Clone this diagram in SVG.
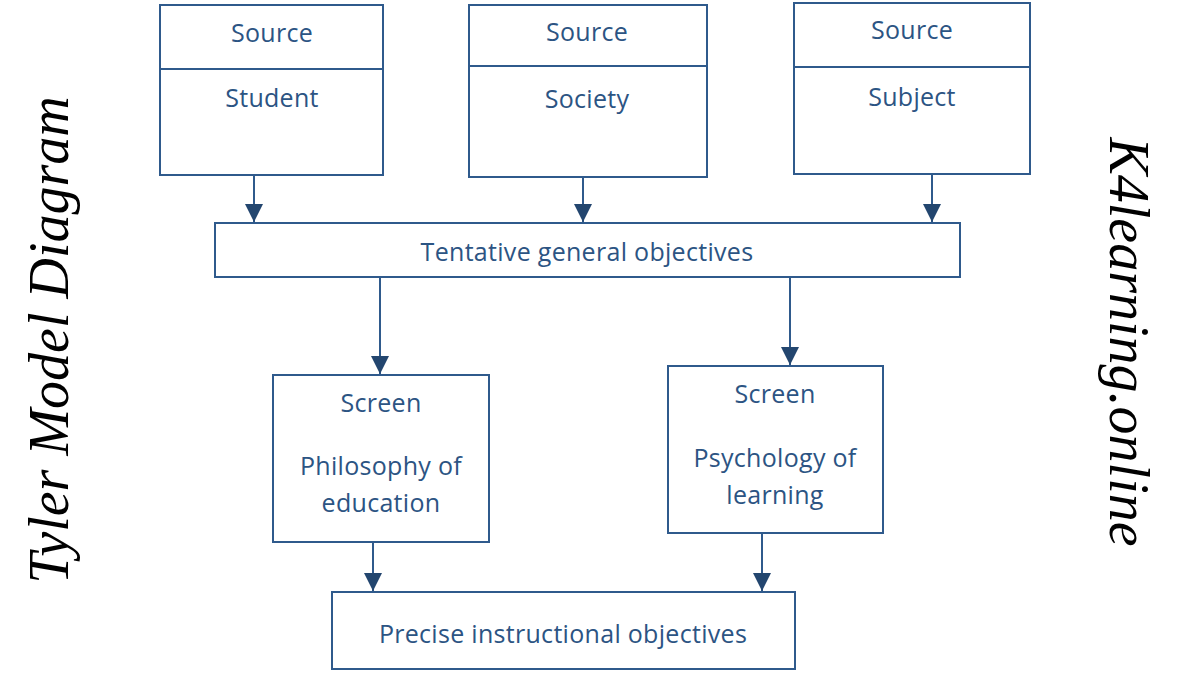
<svg xmlns="http://www.w3.org/2000/svg" width="1200" height="675" viewBox="0 0 1200 675">
<defs>
<marker id="ah" markerUnits="userSpaceOnUse" markerWidth="20" markerHeight="20" viewBox="0 0 20 20" refX="19" refY="10" orient="auto">
<path d="M1,1 L19,10 L1,19 Z" fill="#23466f"/>
</marker>
</defs>
<style>
.box{fill:#fff;stroke:#2f5a8c;stroke-width:2}
.t{font-family:"Open Sans","DejaVu Sans",sans-serif;font-size:25px;letter-spacing:0.3px;fill:#2c5483;text-anchor:middle}
.c{stroke:#2f5a8c;stroke-width:2;fill:none;marker-end:url(#ah)}
.side{font-family:"Liberation Serif",serif;font-style:italic;fill:#000;text-anchor:middle}
</style>
<rect width="1200" height="675" fill="#fff"/>
<g id="connectors">
<line class="c" x1="254" y1="175" x2="254" y2="222"/>
<line class="c" x1="583" y1="177" x2="583" y2="222"/>
<line class="c" x1="932" y1="174" x2="932" y2="222"/>
<line class="c" x1="380" y1="277" x2="380" y2="374"/>
<line class="c" x1="790" y1="277" x2="790" y2="365"/>
<line class="c" x1="373" y1="542" x2="373" y2="591"/>
<line class="c" x1="762" y1="533" x2="762" y2="591"/>
</g>
<g id="student">
<rect class="box" x="160" y="5" width="223" height="170"/>
<line x1="160" y1="69" x2="383" y2="69" stroke="#2f5a8c" stroke-width="2"/>
<text class="t" x="272" y="42">Source</text>
<text class="t" x="272" y="107">Student</text>
</g>
<g id="society">
<rect class="box" x="469" y="5" width="238" height="172"/>
<line x1="469" y1="66" x2="707" y2="66" stroke="#2f5a8c" stroke-width="2"/>
<text class="t" x="587" y="41">Source</text>
<text class="t" x="587" y="108">Society</text>
</g>
<g id="subject">
<rect class="box" x="794" y="3" width="236" height="171"/>
<line x1="794" y1="67" x2="1030" y2="67" stroke="#2f5a8c" stroke-width="2"/>
<text class="t" x="912" y="39">Source</text>
<text class="t" x="912" y="106">Subject</text>
</g>
<g id="tentative">
<rect class="box" x="215" y="223" width="745" height="54"/>
<text class="t" x="587" y="261">Tentative general objectives</text>
</g>
<g id="philosophy">
<rect class="box" x="273" y="375" width="216" height="167"/>
<text class="t" x="381" y="412">Screen</text>
<text class="t" x="381" y="475">Philosophy of</text>
<text class="t" x="381" y="512">education</text>
</g>
<g id="psychology">
<rect class="box" x="668" y="366" width="215" height="167"/>
<text class="t" x="775" y="403">Screen</text>
<text class="t" x="775" y="467">Psychology of</text>
<text class="t" x="775" y="504">learning</text>
</g>
<g id="precise">
<rect class="box" x="332" y="592" width="463" height="77"/>
<text class="t" x="563" y="643">Precise instructional objectives</text>
</g>
<text class="side" font-size="56" transform="translate(68,340) rotate(-90)">Tyler Model Diagram</text>
<text class="side" font-size="56" transform="translate(1110,342) rotate(90)">K4learning.online</text>
</svg>
